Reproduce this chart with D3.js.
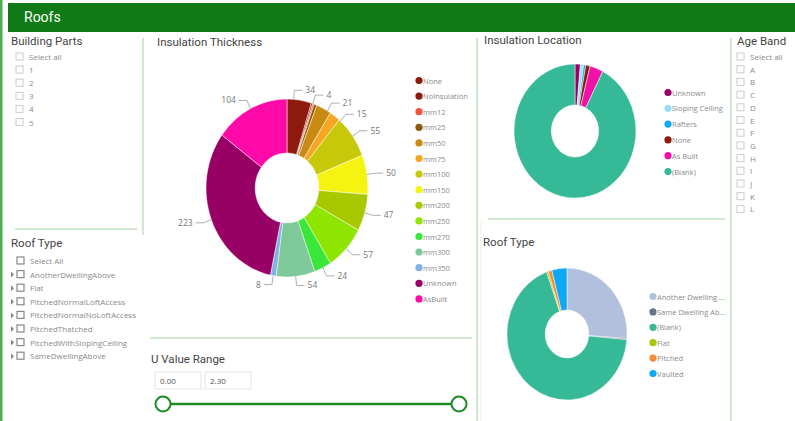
<!DOCTYPE html>
<html>
<head>
<meta charset="utf-8">
<script src="https://cdn.jsdelivr.net/npm/d3@7"></script>
<style>
body { margin: 0; background: #fff; }
svg { display: block; font-family: "Open Sans", "Noto Sans", sans-serif; }
</style>
</head>
<body>
<div id="page"></div>
<script>
// slicer lists
var buildingParts = ["Select all", "1", "2", "3", "4", "5"];
var roofTypeSlicer = ["Select All", "AnotherDwellingAbove", "Flat", "PitchedNormalLoftAccess",
	"PitchedNormalNoLoftAccess", "PitchedThatched", "PitchedWithSlopingCeiling", "SameDwellingAbove"];
var ageBands = ["Select all", "A", "B", "C", "D", "E", "F", "G", "H", "I", "J", "K", "L"];

// Insulation Thickness donut
var thickCats = ["None", "NoInsulation", "mm12", "mm25", "mm50", "mm75", "mm100", "mm150",
	"mm200", "mm250", "mm270", "mm300", "mm350", "Unknown", "AsBuilt"];
var thickVals = [34, 2, 2, 4, 21, 15, 55, 50, 47, 57, 24, 54, 8, 223, 104];
var thickColors = ["#8e1b0e", "#8a1a0c", "#f2553c", "#8c5a0a", "#c98a12", "#f5a623", "#c8c80a", "#f4f410",
	"#a8c800", "#8ee600", "#3ae63a", "#7ec99a", "#7fb2e5", "#990066", "#ff0aa8"];

// Insulation Location donut
var locCats = ["Unknown", "Sloping Ceiling", "Rafters", "None", "As Built", "(Blank)"];
var locVals = [10, 6, 4, 8, 25, 650];
var locColors = ["#990066", "#9fdcf5", "#11a9f0", "#8e1b0e", "#f012a8", "#36b996"];

// Roof Type donut
var roofCats = ["Another Dwelling ...", "Same Dwelling Ab...", "(Blank)", "Flat", "Pitched", "Vaulted"];
var roofVals = [180, 2, 470, 3, 7, 28];
var roofColors = ["#b3c0dd", "#6a7385", "#36b996", "#a6c800", "#f28c3c", "#0aa8f5"];

// U value range
var uRange = ["0.00", "2.30"];

var W = 795, H = 421;
var sx = 0.91; // the screenshot is a bit narrow horizontally
var lineCol = "#bfe0bf";

var svg = d3.select("#page").append("svg")
	.attr("width", W)
	.attr("height", H);

// page frame
svg.append("rect").attr("x", 0).attr("y", 0).attr("width", 2.5).attr("height", H).attr("fill", "#4cb04c");
svg.append("rect").attr("x", 8).attr("y", 3).attr("width", W - 8).attr("height", 29).attr("fill", "#0f7a16");
svg.append("text").attr("x", 24).attr("y", 22).attr("fill", "#fff")
	.attr("font-family", "Roboto").attr("font-size", 14).text("Roofs");

// panel separators
function sep(x1, y1, x2, y2, c) {
	svg.append("line").attr("x1", x1).attr("y1", y1).attr("x2", x2).attr("y2", y2)
		.attr("stroke", c || lineCol).attr("stroke-width", 1.5);
}
sep(143, 38, 143, 235);
sep(15, 229, 137, 229);
sep(477, 38, 477, 421);
sep(150, 338, 472, 338);
sep(731, 38, 731, 421);
sep(488, 219, 725, 219);
sep(481, 222, 481, 421, "#eef6ee");

function title(x, y, t) {
	svg.append("text").attr("x", x).attr("y", y).attr("fill", "#444")
		.attr("font-family", "Roboto").attr("font-size", 11.5).text(t);
}

// checkbox slicer
function slicer(items, x, y0, step, arrows) {
	var g = svg.append("g");
	items.forEach(function(d, i) {
		var y = y0 + i * step;
		if (arrows && i > 0) {
			g.append("path").attr("d", "M" + (x - 6) + "," + (y - 3) + "l3,3l-3,3z").attr("fill", "#888");
		}
		g.append("rect").attr("x", x).attr("y", y - 4).attr("width", 7).attr("height", 7)
			.attr("fill", "#fff").attr("stroke", arrows ? "#888" : "#ccc").attr("stroke-width", arrows ? 1.2 : 1);
		g.append("text").attr("x", x + 13).attr("y", y + 3).attr("fill", "#8a8a8a")
			.attr("font-size", 8).text(d);
	});
}

title(11, 45, "Building Parts");
slicer(buildingParts, 16, 57, 13.1, false);

title(11, 247, "Roof Type");
slicer(roofTypeSlicer, 17, 261, 13.6, true);

title(737, 45, "Age Band");
slicer(ageBands, 737, 57, 12.7, false);

// donut helper
function donut(cx, cy, rOut, rIn, vals, colors) {
	var pie = d3.pie().sort(null).value(function(d) { return d; });
	var arcs = pie(vals);
	var arc = d3.arc().innerRadius(rIn).outerRadius(rOut);
	var g = svg.append("g").attr("transform", "translate(" + cx + "," + cy + ") scale(" + sx + ",1)");
	g.selectAll("path").data(arcs).enter().append("path")
		.attr("d", arc)
		.attr("fill", function(d, i) { return colors[i]; })
		.attr("stroke", "#fff").attr("stroke-width", 0.5);
	return arcs;
}

function legend(x, y0, step, cats, colors) {
	var g = svg.append("g");
	cats.forEach(function(c, i) {
		var y = y0 + i * step;
		g.append("circle").attr("cx", x).attr("cy", y).attr("r", 3.6).attr("fill", colors[i]);
		g.append("text").attr("x", x + 4).attr("y", y + 3).attr("fill", "#8a8a8a")
			.attr("font-size", 7.5).text(cats[i]);
	});
}

// Insulation Thickness
title(157, 46, "Insulation Thickness");
var tcx = 287, tcy = 188, tr = 89;
var tArcs = donut(tcx, tcy, tr, 35, thickVals, thickColors);
legend(419, 80.5, 15.6, thickCats, thickColors);

// data labels with leader lines
var labG = svg.append("g");
var nudge = {0: -4, 3: -2, 4: 3, 5: 5};
tArcs.forEach(function(d, i) {
	if (d.value < 4) return;
	var a = (d.startAngle + d.endAngle) / 2 + (nudge[i] || 0) * Math.PI / 180;
	var right = a < Math.PI;
	var p1 = [tcx + sx * tr * Math.sin(a), tcy - tr * Math.cos(a)];
	var p2 = [tcx + sx * (tr + 9) * Math.sin(a), tcy - (tr + 9) * Math.cos(a)];
	var p3 = [p2[0] + (right ? 8 : -8), p2[1]];
	labG.append("polyline")
		.attr("points", [p1, p2, p3].map(function(p) { return p.join(","); }).join(" "))
		.attr("fill", "none").attr("stroke", "#999").attr("stroke-width", 0.8);
	labG.append("text")
		.attr("x", p3[0] + (right ? 3 : -3)).attr("y", p3[1] + 3)
		.attr("text-anchor", right ? "start" : "end")
		.attr("fill", "#777").attr("font-size", 8.5)
		.text(d.value);
});

// Insulation Location
title(484, 44, "Insulation Location");
donut(575, 131, 67, 26, locVals, locColors);
legend(668, 92.5, 15.8, locCats, locColors);

// Roof Type
title(483, 246, "Roof Type");
donut(567, 334, 66, 24, roofVals, roofColors);
legend(653, 296.5, 15.4, roofCats, roofColors);

// U Value Range slider
title(151, 363, "U Value Range");
uRange.forEach(function(v, i) {
	var x = 155 + i * 50;
	svg.append("rect").attr("x", x).attr("y", 372).attr("width", 46).attr("height", 17)
		.attr("fill", "#fff").attr("stroke", "#e6e6e6");
	svg.append("text").attr("x", x + 5).attr("y", 384).attr("fill", "#555")
		.attr("font-size", 8).text(v);
});
var uScale = d3.scaleLinear().domain([+uRange[0], +uRange[1]]).range([163, 459]);
svg.append("line").attr("x1", uScale(+uRange[0])).attr("x2", uScale(+uRange[1]))
	.attr("y1", 404).attr("y2", 404).attr("stroke", "#1e8a24").attr("stroke-width", 2.5);
uRange.forEach(function(v) {
	svg.append("circle").attr("cx", uScale(+v)).attr("cy", 404).attr("r", 7.5)
		.attr("fill", "#fff").attr("stroke", "#1e8a24").attr("stroke-width", 2);
});
</script>
</body>
</html>
